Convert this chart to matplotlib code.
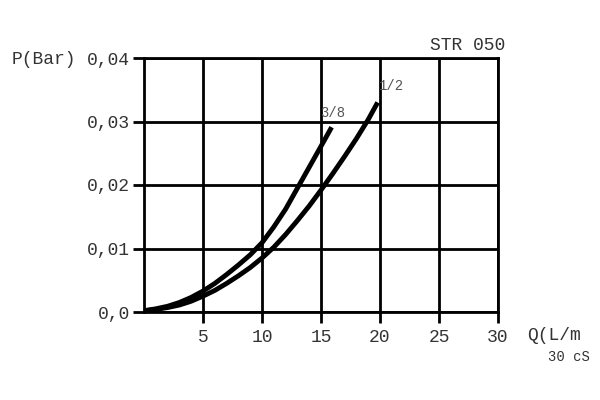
import matplotlib
matplotlib.use("Agg")
import matplotlib.pyplot as plt

q_38 = [0, 1, 2, 3, 4, 5, 6, 7, 8, 9, 10, 11, 12, 13, 14, 15, 15.9]
p_38 = [0.0002, 0.0005, 0.0009, 0.0015, 0.0023, 0.0033, 0.0045, 0.0059, 0.0074, 0.0090,
        0.0109, 0.0134, 0.0162, 0.0195, 0.0228, 0.0261, 0.0291]
q_12 = [0, 1, 2, 3, 4, 5, 6, 7, 8, 9, 10, 11, 12, 13, 14, 15, 16, 17, 18, 19, 19.8]
p_12 = [0.0002, 0.0004, 0.0007, 0.0011, 0.0017, 0.0025, 0.0034, 0.0045, 0.0057, 0.0070,
        0.0085, 0.0102, 0.0122, 0.0144, 0.0167, 0.0192, 0.0218, 0.0245, 0.0273, 0.0303, 0.0330]
x_ticks = [5, 10, 15, 20, 25, 30]
x_labels = ["5", "10", "15", "20", "25", "30"]
y_ticks = [0.0, 0.01, 0.02, 0.03, 0.04]
y_labels = ["0,0", "0,01", "0,02", "0,03", "0,04"]

plt.rcParams['font.family'] = ['Liberation Mono', 'DejaVu Sans Mono']
fig = plt.figure(figsize=(6, 4), dpi=100)
ax = fig.add_axes([0.24, 0.22, 0.59, 0.635])
ax.set_xlim(0, 30)
ax.set_ylim(0, 0.04)
ax.set_xticks(x_ticks)
ax.set_xticklabels(x_labels)
ax.set_yticks(y_ticks)
ax.set_yticklabels(y_labels)
ax.grid(True, color='black', linewidth=2)
for s in ax.spines.values():
    s.set_linewidth(2)
ax.tick_params(axis='both', labelsize=13, width=2, length=8, color='black', labelcolor='#333333')
ax.tick_params(axis='x', pad=4)
ax.tick_params(axis='y', pad=2)

ax.plot(q_38, p_38, color='black', linewidth=3.5, solid_capstyle='butt', solid_joinstyle='round')
ax.plot(q_12, p_12, color='black', linewidth=3.5, solid_capstyle='butt', solid_joinstyle='round')
ax.text(14.9, 0.0302, "3/8", fontsize=10, color='#555555', ha='left', va='bottom')
ax.text(19.9, 0.0345, "1/2", fontsize=10, color='#555555', ha='left', va='bottom')

fig.text(12/600, 1-60/400, "P(Bar)", fontsize=13, color='#333333', ha='left', va='center')
fig.text(505/600, 1-45/400, "STR 050", fontsize=13, color='#333333', ha='right', va='center')
fig.text(527/600, 1-335/400, "Q(L/m", fontsize=13, color='#333333', ha='left', va='center')
fig.text(590/600, 1-357/400, "30 cS", fontsize=10, color='#333333', ha='right', va='center')

fig.savefig("out.png", dpi=100)
